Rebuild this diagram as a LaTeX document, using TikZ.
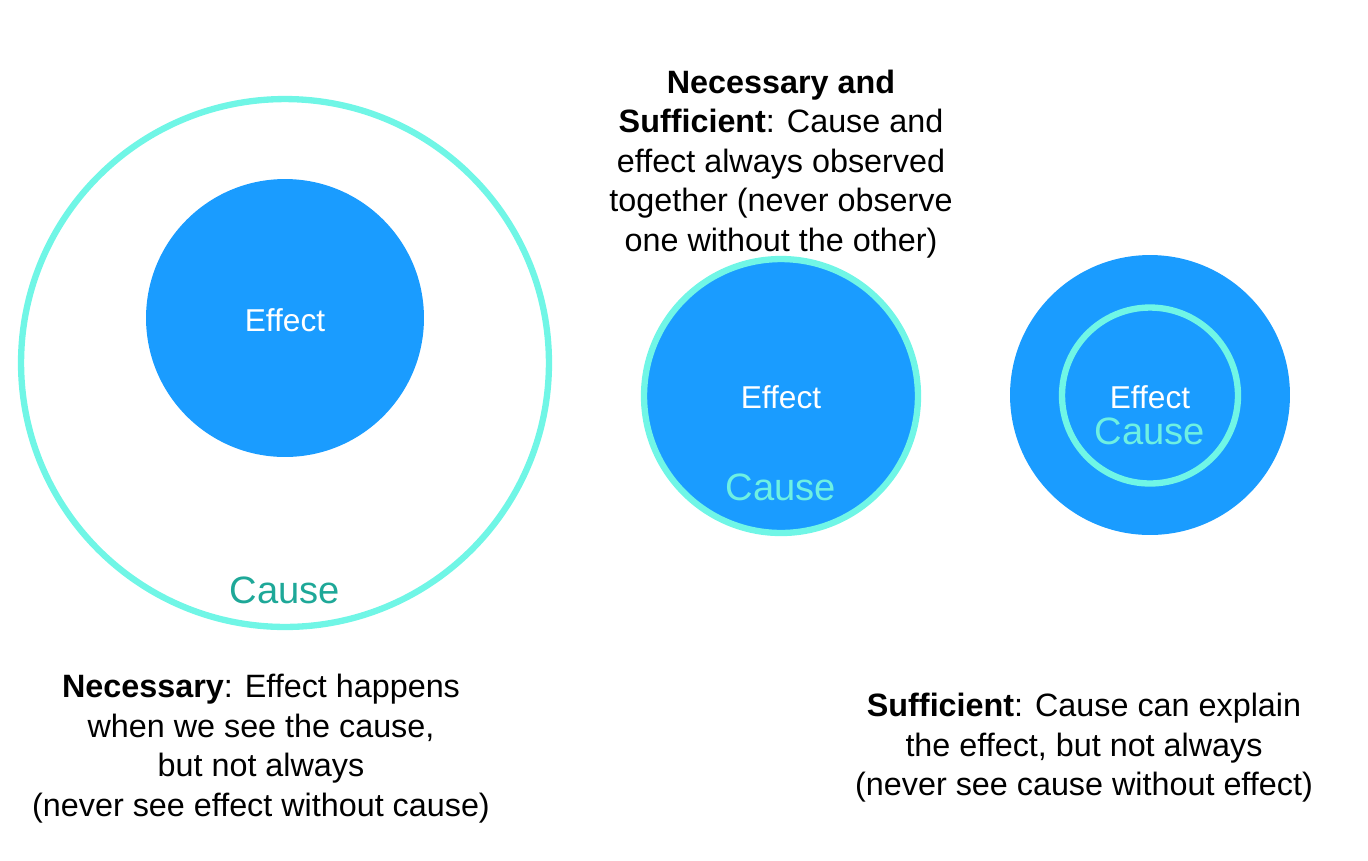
\documentclass[tikz,border=0pt]{standalone}
\usepackage{fontspec}
\setmainfont{Liberation Sans}
\usepackage{tikz}
\usetikzlibrary{positioning}
\definecolor{cBlue}{RGB}{26,156,255}
\definecolor{cRing}{RGB}{112,246,230}
\definecolor{cTeal}{RGB}{30,168,152}
\definecolor{cCyanText}{RGB}{110,240,226}
\tikzset{
	ring/.style={circle, draw=cRing, line width=3.6pt, inner sep=0pt},
	disc/.style={circle, fill=cBlue, inner sep=0pt},
	effectlbl/.style={text=white, font=\fontsize{18}{21}\selectfont},
	causelbl/.style={font=\fontsize{21.7}{26}\selectfont},
	caption/.style={align=center, text=black, font=\fontsize{18.4}{22.5}\selectfont},
}
\begin{document}
\begin{tikzpicture}[x=0.02cm, y=-0.02cm]
	\useasboundingbox (0,0) rectangle (1368,860);
	% necessary
	\node[ring, minimum size=10.56cm] (nRing) at (285,363) {};
	\node[disc, minimum size=5.56cm] (nDisc) at (285,318) {};
	\node[effectlbl] (nEffect) at (285,320) {Effect};
	\node[causelbl, text=cTeal] (nCause) at (285,590) {Cause};
	\node[caption] (nText) at (261,748.5) {\textbf{Necessary}: Effect happens\\when we see the cause,\\but not always\\(never see effect without cause)};
	% necessary and sufficient
	\node[disc, ring, fill=cBlue, minimum size=5.48cm] (bDisc) at (781,396) {};
	\node[effectlbl] (bEffect) at (781,397) {Effect};
	\node[causelbl, text=cCyanText] (bCause) at (781,487) {Cause};
	\node[caption] (bText) at (781,164) {\textbf{Necessary and}\\\textbf{Sufficient}: Cause and\\effect always observed\\together (never observe\\one without the other)};
	% sufficient
	\node[disc, minimum size=5.6cm] (sDisc) at (1150,395) {};
	\node[ring, minimum size=3.52cm] (sRing) at (1150,395.5) {};
	\node[effectlbl] (sEffect) at (1150,397) {Effect};
	\node[causelbl, text=cCyanText] (sCause) at (1150,431) {Cause};
	\node[caption] (sText) at (1084,748) {\textbf{Sufficient}: Cause can explain\\the effect, but not always\\(never see cause without effect)};
\end{tikzpicture}
\end{document}
